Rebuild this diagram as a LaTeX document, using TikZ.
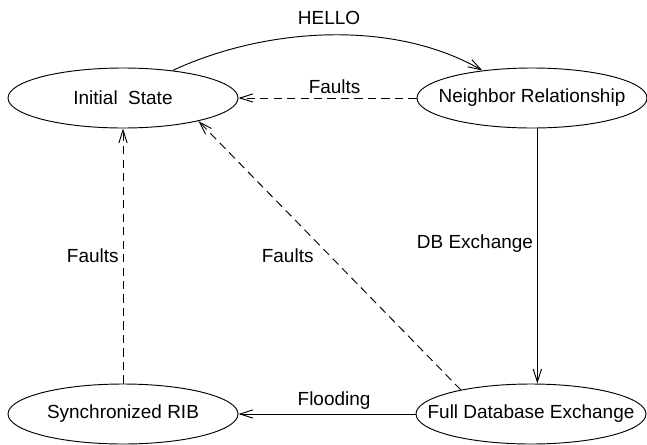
\documentclass[tikz,border=0pt]{standalone}
\usepackage{fontspec}
\setmainfont{Liberation Sans}
\usetikzlibrary{arrows.meta,positioning,shapes.geometric}

\begin{document}
\begin{tikzpicture}[x=0.03cm,y=-0.03cm,font=\fontsize{16.2}{19}\selectfont,
  line width=0.8pt,>={Straight Barb[length=11pt,width=7pt]},
  state/.style={draw,ellipse,minimum width=6.9cm,minimum height=1.8cm,inner sep=0pt},
  fault/.style={->,dash pattern=on 7pt off 4.5pt}]
\useasboundingbox (0,0) rectangle (647,444);
\node[state,label=center:Initial~~State] (init) at (123,98) {};
\node[state,label=center:Neighbor Relationship] (nbr) at (532,98) {};
\node[state,label=center:Synchronized RIB] (sync) at (123,414) {};
\node[state,label=center:Full Database Exchange] (fde) at (531,414) {};
\draw[->] (init.29) to[out=25,in=150,looseness=0.85] node[above=5pt]{HELLO} (nbr.151);
\draw[fault] (nbr.west) -- node[pos=0.46,above]{Faults} (init.east);
\draw[->] (nbr.-80) -- node[pos=0.45,left]{DB Exchange} (nbr.-80 |- fde.north);
\draw[fault] (fde.161) -- node[pos=0.5,left=10pt]{Faults} (init.-17);
\draw[fault] (sync.north) -- node[pos=0.5,left]{Faults} (init.south);
\draw[->] (fde.west) -- node[pos=0.46,above]{Flooding} (sync.east);
\end{tikzpicture}
\end{document}
